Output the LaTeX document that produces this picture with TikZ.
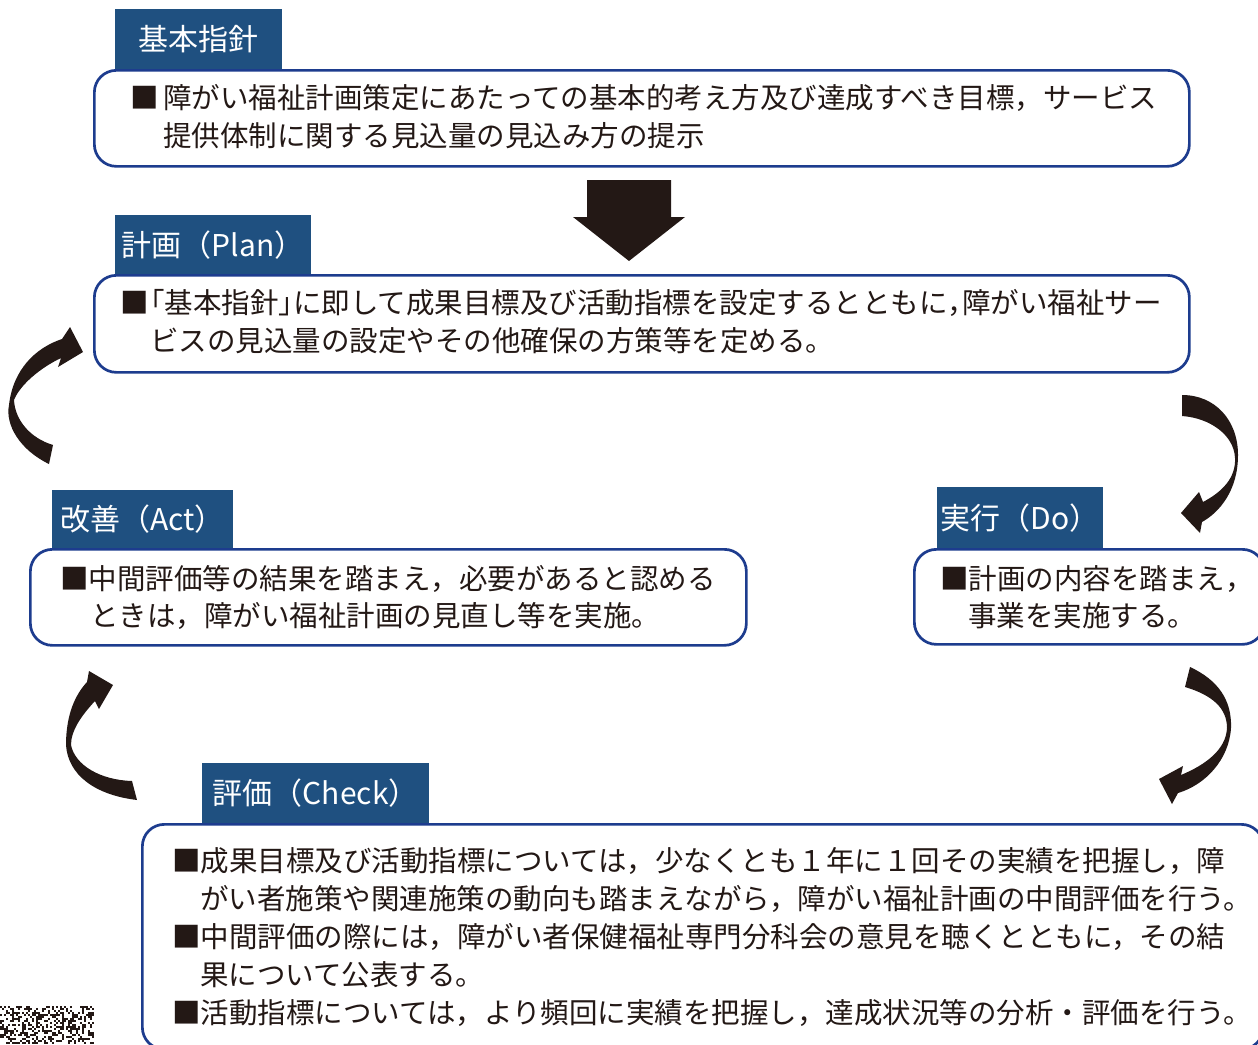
\documentclass[tikz,border=0pt]{standalone}
\usepackage{fontspec}
\setmainfont{Noto Sans CJK JP}
\definecolor{tabblue}{HTML}{1F5080}
\definecolor{bordblue}{HTML}{1D3C8E}
\definecolor{ink}{HTML}{231815}
\newcommand{\hl}[1]{\makebox[0.5em][r]{#1}}
\newcommand{\hr}[1]{\makebox[0.5em][l]{#1}}
\tikzset{
  tabbox/.style={fill=tabblue, text=white, inner sep=0, anchor=north west,
    font=\fontsize{30}{30}\selectfont},
  framebox/.style={draw=bordblue, line width=2.7pt, rounded corners=22pt,
    inner sep=0, anchor=north west},
  txt/.style={anchor=base west, inner sep=0, text=ink,
    font=\fontsize{28.5}{28.5}\selectfont},
  arrowfill/.style={fill=ink}
}
\begin{document}
\begin{tikzpicture}[x=1pt,y=-1pt]
\useasboundingbox (0,0) rectangle (1258,1044);
\clip (0,0) rectangle (1258,1044);
\fill[white] (0,0) rectangle (1258,1044);

% tabs
\node[tabbox, minimum width=167, minimum height=60] (t1) at (115,9) {基本指針};
\node[tabbox, minimum width=196, minimum height=59] (t2) at (115,215) {計画（Plan）};
\node[tabbox, minimum width=181, minimum height=58] (t3) at (52,490) {改善（Act）};
\node[tabbox, minimum width=166, minimum height=61] (t4) at (937,487) {実行（Do）};
\node[tabbox, minimum width=227, minimum height=60] (t5) at (202,763) {評価（Check）};

% frames
\node[framebox, minimum width=1095, minimum height=96] (b1) at (93,69) {};
\node[framebox, minimum width=1095, minimum height=97] (b2) at (93,274) {};
\node[framebox, minimum width=716, minimum height=96] (b3) at (29,548) {};
\node[framebox, minimum width=350, minimum height=95] (b4) at (913,548) {};
\node[framebox, minimum width=1121, minimum height=225] (b5) at (141,823) {};

% box 1 text
\node[txt] (b1a) at (130,108.5) {■\hspace{4.5pt}障がい福祉計画策定にあたっての基本的考え方及び達成すべき目標，サービス};
\node[txt] (b1b) at (163,146.5) {提供体制に関する見込量の見込み方の提示};
% box 2 text
\node[txt] (b2a) at (120,313.5) {■\hspace{2pt}\hl{「}基本指針\hr{」}に即して成果目標及び活動指標を設定するとともに\hr{，}障がい福祉サー};
\node[txt] (b2b) at (150,351.5) {ビスの見込量の設定やその他確保の方策等を定める。};
% box 3 text
\node[txt] (b3a) at (60,589.5) {■中間評価等の結果を踏まえ，必要があると認める};
\node[txt] (b3b) at (90,626.5) {ときは，障がい福祉計画の見直し等を実施。};
% box 4 text
\node[txt] (b4a) at (940,589.5) {■計画の内容を踏まえ，};
\node[txt] (b4b) at (968,626.5) {事業を実施する。};
% box 5 text
\node[txt] (b5a) at (172,871) {■成果目標及び活動指標については，少なくとも１年に１回その実績を把握し，障};
\node[txt] (b5b) at (200,909) {がい者施策や関連施策の動向も踏まえながら，障がい福祉計画の中間評価を行う。};
\node[txt] (b5c) at (172,947) {■中間評価の際には，障がい者保健福祉専門分科会の意見を聴くとともに，その結};
\node[txt] (b5d) at (200,985) {果について公表する。};
\node[txt] (b5e) at (172,1023) {■活動指標については，より頻回に実績を把握し，達成状況等の分析・評価を行う。};

% big down arrow
\fill[arrowfill] (587,180) -- (671,180) -- (671,217) -- (685,217) -- (629,261)
  -- (573,217) -- (587,217) -- cycle;

% curved arrow: Act -> Plan (left top)
\fill[arrowfill] (49,464) .. controls (20,450) and (5,425) .. (9,405)
  .. controls (13,370) and (35,348) .. (62,339)
  -- (70,327) -- (83,352) -- (58,367) -- (61,358)
  .. controls (40,368) and (20,385) .. (14,400)
  .. controls (15,420) and (30,438) .. (53,445) -- cycle;

% curved arrow: Plan -> Do (right top)
\fill[arrowfill] (1182,395) .. controls (1215,395) and (1238,420) .. (1238,455)
  .. controls (1238,490) and (1220,512) .. (1202,522)
  -- (1200,533) -- (1181,513) -- (1199,492) -- (1203,502)
  .. controls (1222,492) and (1236,478) .. (1235,458)
  .. controls (1234,435) and (1210,418) .. (1182,416) -- cycle;

% curved arrow: Do -> Check (right bottom)
\fill[arrowfill] (1190,667) .. controls (1218,680) and (1232,700) .. (1231,728)
  .. controls (1229,760) and (1205,785) .. (1178,793)
  -- (1172,804) -- (1159,779) -- (1183,766) -- (1181,775)
  .. controls (1205,765) and (1226,750) .. (1227,728)
  .. controls (1227,708) and (1212,695) .. (1185,687) -- cycle;

% curved arrow: Check -> Act (left bottom)
\fill[arrowfill] (137,800) .. controls (95,795) and (68,775) .. (66,745)
  .. controls (66,715) and (75,695) .. (87,682)
  -- (89,671) -- (113,685) -- (99,709) -- (95,701)
  .. controls (82,715) and (71,730) .. (71,745)
  .. controls (75,765) and (100,780) .. (132,781) -- cycle;

% speech code texture (bottom left)
\pgfmathsetseed{12}
\foreach \i in {0,...,46}{
  \foreach \j in {0,...,18}{
    \pgfmathsetmacro{\r}{rnd}
    \ifdim\r pt<0.42pt
      \fill[ink] (2*\i,1006+2*\j) rectangle ++(2,2);
    \fi
  }
}
\end{tikzpicture}
\end{document}
